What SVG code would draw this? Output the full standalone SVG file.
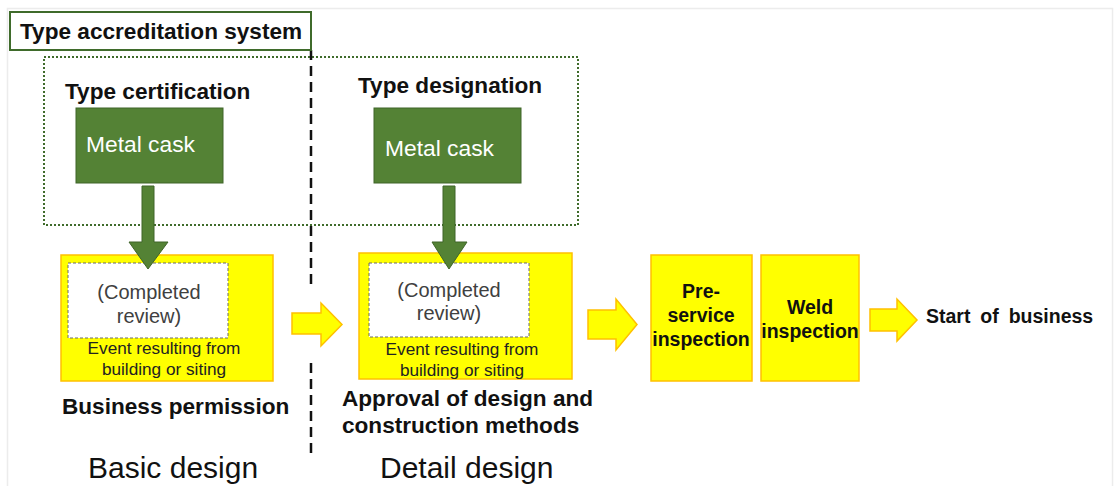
<svg xmlns="http://www.w3.org/2000/svg" width="1116" height="486" viewBox="0 0 1116 486">
  <defs>
    <style>
      text { font-family: "Liberation Sans", Arial, sans-serif; }
      .b { font-weight: bold; fill: #111; }
      .h { font-size: 22.6px; }
      .cask { fill: #548235; stroke: #3f6529; stroke-width: 1; }
      .caskt { font-size: 22.8px; fill: #ffffff; }
      .yel { fill: #ffff00; stroke: #ffc000; stroke-width: 1.5; }
      .inner { fill: #ffffff; stroke: #6b6b6b; stroke-width: 1; stroke-dasharray: 3 2; }
      .rev { font-size: 20px; fill: #404040; text-anchor: middle; }
      .ev { font-size: 17.2px; fill: #222; text-anchor: middle; }
      .insp { font-size: 19.5px; text-anchor: middle; }
      .phase { font-size: 30px; fill: #111; }
      .down { fill: #548235; stroke: #3f6529; stroke-width: 1; }
      .right { fill: #ffff00; stroke: #ffc000; stroke-width: 1.5; stroke-linejoin: miter; }
    </style>
  </defs>

  <rect width="1116" height="486" fill="#ffffff"/>
  <!-- slide frame -->
  <rect x="7.5" y="8.5" width="1105" height="490" fill="none" stroke="#ececec" stroke-width="1.5"/>

  <!-- type accreditation scope -->
  <g id="scope">
    <rect x="44" y="57" width="534" height="168" fill="none" stroke="#3f6b2b" stroke-width="2" stroke-dasharray="2 2"/>
  </g>

  <!-- phase divider -->
  <g id="divider" stroke="#111" stroke-width="2.5" stroke-dasharray="10 6">
    <line x1="311" y1="50" x2="311" y2="287"/>
    <line x1="311" y1="363" x2="311" y2="453"/>
  </g>

  <g id="title">
    <rect x="10" y="12" width="301" height="38" fill="#ffffff" stroke="#3f6b2b" stroke-width="2"/>
    <text class="b h" x="20" y="39">Type accreditation system</text>
  </g>

  <g id="type-certification">
    <text class="b h" x="65" y="99">Type certification</text>
    <rect class="cask" x="76" y="108" width="147" height="75"/>
    <text class="caskt" x="86" y="152">Metal cask</text>
  </g>

  <g id="type-designation">
    <text class="b h" x="358" y="93">Type designation</text>
    <rect class="cask" x="374" y="108" width="147" height="75"/>
    <text class="caskt" x="385" y="156">Metal cask</text>
  </g>

  <g id="business-permission">
    <rect class="yel" x="61" y="255" width="212" height="126"/>
    <rect class="inner" x="68" y="263" width="160" height="75"/>
    <text class="rev" x="149" y="299">(Completed</text>
    <text class="rev" x="149" y="323">review)</text>
    <text class="ev" x="164" y="354">Event resulting from</text>
    <text class="ev" x="164" y="375">building or siting</text>
    <text class="b h" x="62" y="414">Business permission</text>
  </g>

  <g id="design-approval">
    <rect class="yel" x="359" y="253" width="213" height="126"/>
    <rect class="inner" x="369" y="263" width="160" height="74"/>
    <text class="rev" x="449" y="297">(Completed</text>
    <text class="rev" x="449" y="320">review)</text>
    <text class="ev" x="462" y="355">Event resulting from</text>
    <text class="ev" x="462" y="376">building or siting</text>
    <text class="b h" x="342" y="406">Approval of design and</text>
    <text class="b h" x="342" y="433">construction methods</text>
  </g>

  <g id="pre-service-inspection">
    <rect class="yel" x="651" y="255" width="101" height="126"/>
    <text class="b insp" x="701" y="298">Pre-</text>
    <text class="b insp" x="701" y="322">service</text>
    <text class="b insp" x="701" y="346">inspection</text>
  </g>

  <g id="weld-inspection">
    <rect class="yel" x="761" y="255" width="98" height="126"/>
    <text class="b insp" x="810" y="314">Weld</text>
    <text class="b insp" x="810" y="338">inspection</text>
  </g>

  <g id="start-of-business">
    <text class="b" x="926" y="323" font-size="19.5" word-spacing="4.5">Start of business</text>
  </g>

  <g id="phases">
    <text class="phase" x="88" y="478">Basic design</text>
    <text class="phase" x="380" y="478">Detail design</text>
  </g>

  <!-- connectors -->
  <g id="connectors">
    <polygon class="down" points="142,186 154,186 154,242 168,242 148,269 129,242 142,242"/>
    <polygon class="down" points="443,186 455,186 455,242 467,242 449,269 432,242 443,242"/>
    <polygon class="right" points="292,313 321,313 321,303 342,324.5 321,346 321,334 292,334"/>
    <polygon class="right" points="588,310 616,310 616,299 637,324.5 616,350 616,339 588,339"/>
    <polygon class="right" points="870,309 897,309 897,299 917,320 897,341 897,331 870,331"/>
  </g>
</svg>
